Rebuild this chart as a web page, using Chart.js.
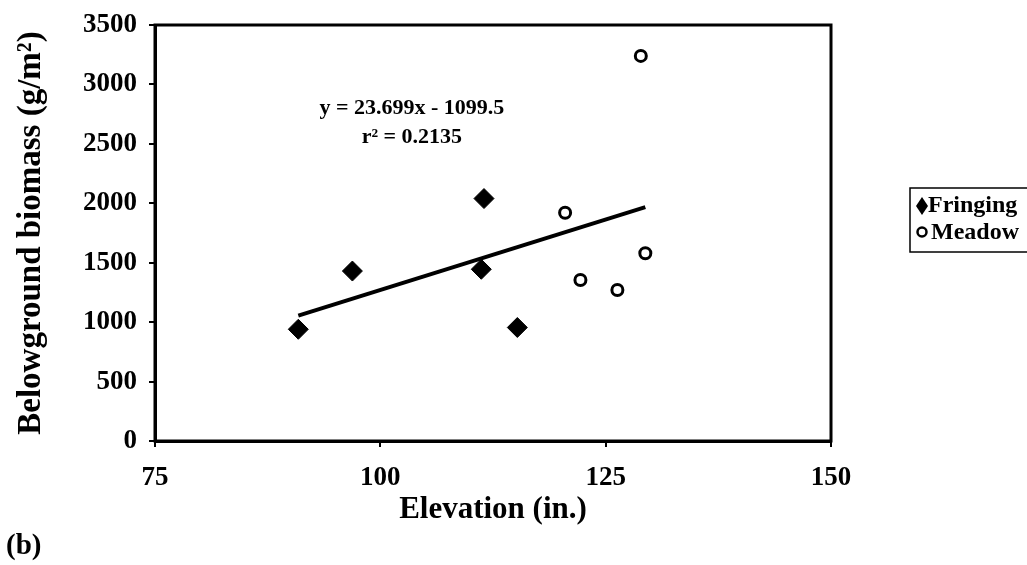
<!DOCTYPE html>
<html>
<head>
<meta charset="utf-8">
<title>Belowground biomass vs elevation</title>
<script src="https://cdn.jsdelivr.net/npm/chart.js@4.4.0/dist/chart.umd.min.js"></script>
<style>
  html, body { margin: 0; padding: 0; background: #fff; }
  #wrap { position: relative; width: 1027px; height: 565px; }
</style>
</head>
<body>
<div id="wrap"><canvas id="biomass-chart"></canvas></div>
<script>
// Elevation (in.) and belowground biomass (g/m2) per site
const fringingElev = [90.9, 96.9, 111.5, 111.2, 115.2];
const fringingMass = [940, 1430, 2040, 1445, 955];
const meadowElev = [128.9, 120.5, 122.2, 126.3, 129.4];
const meadowMass = [3240, 1920, 1355, 1270, 1580];

// Linear fit over all sites
const slope = 23.699;
const intercept = -1099.5;
const rSquared = 0.2135;

const xTicks = [75, 100, 125, 150];
const yTicks = [0, 500, 1000, 1500, 2000, 2500, 3000, 3500];

const serif = 'Liberation Serif, Times New Roman, serif';

const allElev = fringingElev.concat(meadowElev);
const fitStart = Math.min(...allElev);
const fitEnd = Math.max(...allElev);

// Frame, regression label, legend box and panel letter
const extras = {
  id: 'extras',
  afterDraw(chart) {
    const ctx = chart.ctx;
    const a = chart.chartArea;
    const xs = chart.scales.x;
    const ys = chart.scales.y;
    ctx.save();
    ctx.strokeStyle = '#000';
    ctx.lineWidth = 3;
    ctx.strokeRect(a.left, a.top, a.right - a.left, a.bottom - a.top);

    ctx.fillStyle = '#000';
    ctx.textAlign = 'center';
    ctx.textBaseline = 'middle';
    ctx.font = 'bold 22px ' + serif;
    const tx = xs.getPixelForValue(103.5);
    ctx.fillText('y = ' + slope + 'x - ' + Math.abs(intercept), tx, ys.getPixelForValue(2800));
    ctx.fillText('r\u00b2 = ' + rSquared, tx, ys.getPixelForValue(2555));

    // legend
    ctx.lineWidth = 1.5;
    ctx.strokeRect(910, 188, 130, 64);
    ctx.beginPath();
    ctx.moveTo(922, 197);
    ctx.lineTo(928, 206);
    ctx.lineTo(922, 215);
    ctx.lineTo(916, 206);
    ctx.closePath();
    ctx.fill();
    ctx.beginPath();
    ctx.lineWidth = 2.5;
    ctx.arc(922, 232, 4.5, 0, Math.PI * 2);
    ctx.stroke();
    ctx.textAlign = 'left';
    ctx.font = 'bold 24px ' + serif;
    ctx.fillText('Fringing', 928, 206);
    ctx.fillText('Meadow', 931, 233);

    ctx.font = 'bold 29px ' + serif;
    ctx.fillText('(b)', 6, 547);
    ctx.restore();
  }
};

new Chart(document.getElementById('biomass-chart'), {
  type: 'scatter',
  data: {
    datasets: [
      {
        label: 'Fringing',
        data: fringingElev.map((x, i) => ({ x: x, y: fringingMass[i] })),
        pointStyle: 'rectRot',
        radius: 10,
        backgroundColor: '#000',
        borderColor: '#000',
        borderWidth: 1
      },
      {
        label: 'Meadow',
        data: meadowElev.map((x, i) => ({ x: x, y: meadowMass[i] })),
        pointStyle: 'circle',
        radius: 5.5,
        backgroundColor: '#fff',
        borderColor: '#000',
        borderWidth: 3
      },
      {
        label: 'Linear fit',
        type: 'line',
        data: [fitStart, fitEnd].map(x => ({ x: x, y: slope * x + intercept })),
        borderColor: '#000',
        borderWidth: 4,
        pointRadius: 0,
        fill: false
      }
    ]
  },
  options: {
    responsive: true,
    maintainAspectRatio: false,
    animation: false,
    layout: { padding: { top: 25, right: 196, left: 0, bottom: 0 } },
    plugins: {
      legend: { display: false },
      tooltip: { enabled: false }
    },
    scales: {
      x: {
        type: 'linear',
        min: 75,
        max: 150,
        afterBuildTicks: s => { s.ticks = xTicks.map(v => ({ value: v })); },
        afterFit: s => { s.height = 124; },
        ticks: {
          color: '#000',
          padding: 15,
          callback: v => String(v),
          font: { family: serif, size: 27, weight: 'bold' }
        },
        grid: { drawOnChartArea: false, tickLength: 6, color: '#000', lineWidth: 2 },
        border: { color: '#000', width: 3 },
        title: {
          display: true,
          text: 'Elevation (in.)',
          color: '#000',
          padding: { top: 0, bottom: 36 },
          font: { family: serif, size: 31, weight: 'bold' }
        }
      },
      y: {
        min: 0,
        max: 3500,
        afterBuildTicks: s => { s.ticks = yTicks.map(v => ({ value: v })); },
        afterFit: s => {
          s.width = 155;
          s.paddingTop = 0;
          s.paddingBottom = 0;
        },
        ticks: {
          color: '#000',
          padding: 12,
          callback: v => String(v),
          font: { family: serif, size: 27, weight: 'bold' }
        },
        grid: { drawOnChartArea: false, tickLength: 6, color: '#000', lineWidth: 2 },
        border: { color: '#000', width: 3 },
        title: {
          display: true,
          text: 'Belowground biomass (g/m\u00b2)',
          color: '#000',
          padding: { top: 12, bottom: 0 },
          font: { family: serif, size: 33, weight: 'bold' }
        }
      }
    }
  },
  plugins: [extras]
});
</script>
</body>
</html>
